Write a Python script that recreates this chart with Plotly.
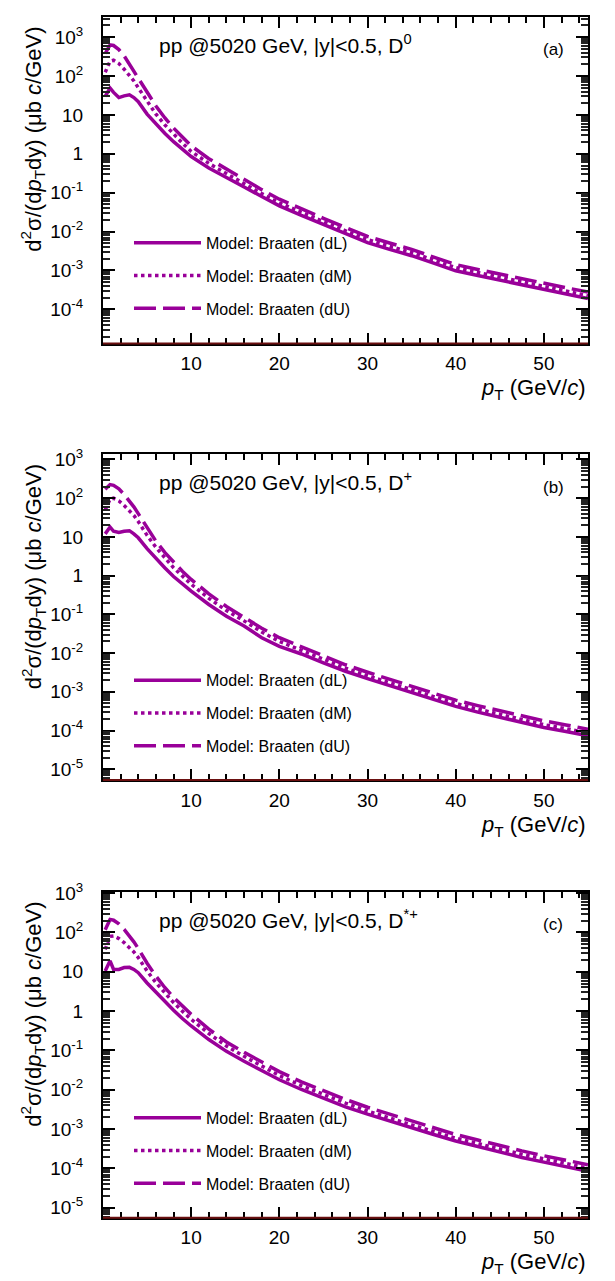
import plotly.graph_objects as go

# transverse-momentum grid (GeV/c)
pt = [0.25, 0.8, 1.2, 1.8, 2.4, 3.0, 3.5, 4.0, 5, 6, 7, 8, 9, 10, 12, 14, 16, 18, 20,
      22.5, 25, 27.5, 30, 32.5, 35, 37.5, 40, 42.5, 45, 47.5, 50, 52.5, 55]

# D0 cross sections (ub c/GeV)
d0_dL = [30, 49, 38, 28, 31, 33, 28, 22, 10.5, 5.8, 3.4, 2.05, 1.3, 0.85, 0.43, 0.24, 0.14, 0.08,
         0.046, 0.026, 0.015, 0.0088, 0.0052, 0.0035, 0.0024, 0.00155, 0.00098, 0.00074, 0.00056,
         0.00043, 0.00033, 0.00025, 0.00019]
d0_dM = [125, 240, 255, 210, 150, 105, 75, 50, 22, 10.5, 5.6, 3.2, 1.9, 1.15, 0.57, 0.31, 0.17,
         0.095, 0.055, 0.031, 0.018, 0.0105, 0.0062, 0.0042, 0.0029, 0.00185, 0.00118, 0.00089,
         0.00067, 0.00052, 0.0004, 0.0003, 0.000225]
d0_dU = [380, 630, 610, 480, 330, 200, 140, 95, 40, 17, 8.5, 4.6, 2.7, 1.6, 0.75, 0.40, 0.22, 0.12,
         0.068, 0.038, 0.022, 0.0128, 0.0075, 0.0051, 0.0035, 0.0022, 0.00142, 0.00106, 0.0008,
         0.00061, 0.00047, 0.00036, 0.00028]

# D+ cross sections (ub c/GeV)
dp_dL = [12, 18, 14, 13, 14, 14.5, 12, 9.5, 5.0, 2.8, 1.6, 0.95, 0.6, 0.40, 0.18, 0.09, 0.05, 0.025,
         0.015, 0.0095, 0.0056, 0.0034, 0.0022, 0.00145, 0.00095, 0.00063, 0.00042, 0.0003, 0.00022,
         0.00016, 0.00012, 0.000095, 0.000073]
dp_dM = [50, 95, 100, 85, 65, 48, 36, 25, 11, 5.4, 2.9, 1.6, 0.98, 0.60, 0.26, 0.125, 0.068, 0.035,
         0.02, 0.0118, 0.0069, 0.0041, 0.0026, 0.0017, 0.00113, 0.00075, 0.0005, 0.00036, 0.00026,
         0.00019, 0.000142, 0.000112, 0.000087]
dp_dU = [170, 225, 215, 175, 125, 85, 60, 40, 17, 7.8, 4.0, 2.2, 1.3, 0.8, 0.34, 0.16, 0.085, 0.044,
         0.025, 0.0145, 0.0084, 0.005, 0.0032, 0.0021, 0.00138, 0.00091, 0.00061, 0.00044, 0.00032,
         0.00024, 0.000178, 0.00014, 0.000108]

# D*+ cross sections (ub c/GeV)
ds_dL = [10.5, 19, 11.5, 11.5, 12.8, 13, 11.5, 9.5, 5.2, 3.0, 1.75, 1.05, 0.65, 0.42, 0.19, 0.095,
         0.053, 0.03, 0.018, 0.0102, 0.006, 0.0037, 0.0024, 0.0016, 0.00108, 0.00073, 0.0005,
         0.00036, 0.00026, 0.00019, 0.000145, 0.00011, 0.000085]
ds_dM = [37, 80, 82, 70, 55, 42, 32, 23, 10.5, 5.3, 2.9, 1.65, 1.0, 0.62, 0.27, 0.13, 0.071, 0.04,
         0.023, 0.0128, 0.0075, 0.0046, 0.0029, 0.0019, 0.00128, 0.00087, 0.00059, 0.00043, 0.00031,
         0.00023, 0.000175, 0.000132, 0.000102]
ds_dU = [117, 215, 205, 165, 120, 82, 58, 39, 16.5, 7.8, 4.0, 2.25, 1.35, 0.83, 0.35, 0.165, 0.09,
         0.05, 0.029, 0.016, 0.0094, 0.0057, 0.0036, 0.0024, 0.0016, 0.00107, 0.00073, 0.00053,
         0.00038, 0.00028, 0.00021, 0.000162, 0.000125]

series_names = ["Model: Braaten (dL)", "Model: Braaten (dM)", "Model: Braaten (dU)"]
series_dash = ["solid", "dot", "22px,7px"]
particles = ["D<sup>0</sup>", "D<sup>+</sup>", "D<sup>*+</sup>"]
panel_tags = ["(a)", "(b)", "(c)"]

ytick_vals = [1e3, 1e2, 10, 1, 1e-1, 1e-2, 1e-3, 1e-4, 1e-5]
ytick_text = ["10<sup>3</sup>", "10<sup>2</sup>", "10", "1", "10<sup>-1</sup>", "10<sup>-2</sup>",
              "10<sup>-3</sup>", "10<sup>-4</sup>", "10<sup>-5</sup>"]
xtick_vals = [10, 20, 30, 40, 50]
# minor ticks: 2..9 in every decade on y, every 2 GeV/c on x
yminor_vals = [m * 10.0 ** e for e in range(-6, 4) for m in range(2, 10)]
xminor_vals = [v for v in range(2, 56, 2) if v % 10 != 0]

W, H = 615, 1281
FONT = "Liberation Sans, Arial, Helvetica, sans-serif"
PURPLE = "#990099"

# panel frames in pixels: left, right, top, bottom
x_left, x_right = 103, 588
panels = [(5, 335), (447, 776), (889, 1218)]
y_ranges = [[-4.88, 3.52], [-5.28, 3.13], [-5.25, 3.03]]

data = [[d0_dL, d0_dM, d0_dU], [dp_dL, dp_dM, dp_dU], [ds_dL, ds_dM, ds_dU]]

fig = go.Figure()
layout = dict(
    width=W, height=H, autosize=False,
    margin=dict(l=0, r=0, t=0, b=0),
    paper_bgcolor="white", plot_bgcolor="white",
    font=dict(family=FONT, color="black"),
    showlegend=True,
)
annotations = []
shapes = []

frame = dict(showline=True, linecolor="black", linewidth=2, mirror="allticks",
             showgrid=False, zeroline=False)

for i, (top, bot) in enumerate(panels):
    sfx = "" if i == 0 else str(i + 1)
    msfx = str(i + 4)  # overlay axes carrying the minor ticks
    xa, ya = "x" + sfx, "y" + sfx
    xm, ym = "x" + msfx, "y" + msfx
    leg = "legend" + sfx
    for j in range(3):
        fig.add_trace(go.Scatter(
            x=pt, y=data[i][j], mode="lines", name=series_names[j],
            line=dict(color=PURPLE, width=3.5, dash=series_dash[j]),
            xaxis=xa, yaxis=ya, legend=leg, legendgroup=f"p{i}s{j}",
            hoverinfo="skip",
        ))
    # empty trace so the minor-tick axes are drawn
    fig.add_trace(go.Scatter(x=[None], y=[None], xaxis=xm, yaxis=ym, mode="lines",
                             showlegend=False, hoverinfo="skip"))
    dom_x = [x_left / W, x_right / W]
    dom_y = [1 - bot / H, 1 - top / H]
    layout["xaxis" + sfx] = dict(
        domain=dom_x, range=[0, 55], anchor=ya,
        tickmode="array", tickvals=xtick_vals,
        ticks="inside", ticklen=11, tickwidth=2, tickcolor="black",
        ticklabelstandoff=2,
        tickfont=dict(family=FONT, size=19, color="black"), **frame,
    )
    layout["yaxis" + sfx] = dict(
        domain=dom_y, type="log", range=y_ranges[i], anchor=xa,
        tickmode="array", tickvals=ytick_vals, ticktext=ytick_text,
        ticks="inside", ticklen=12, tickwidth=2, tickcolor="black",
        ticklabelstandoff=14,
        tickfont=dict(family=FONT, size=19, color="black"), **frame,
    )
    layout["xaxis" + msfx] = dict(
        domain=dom_x, range=[0, 55], anchor=ym, overlaying=xa,
        tickmode="array", tickvals=xminor_vals, showticklabels=False,
        ticks="inside", ticklen=6, tickwidth=1.5, tickcolor="black", **frame,
    )
    layout["yaxis" + msfx] = dict(
        domain=dom_y, type="log", range=y_ranges[i], anchor=xm, overlaying=ya,
        tickmode="array", tickvals=yminor_vals, showticklabels=False,
        ticks="inside", ticklen=7, tickwidth=1.5, tickcolor="#222", **frame,
    )
    layout[leg] = dict(
        x=(x_left + 26) / W, xanchor="left",
        y=1 - (top + 211) / H, yanchor="top",
        bgcolor="rgba(0,0,0,0)", borderwidth=0,
        font=dict(family=FONT, size=16, color="black"),
        itemwidth=67, tracegroupgap=9,
    )
    # dark-red bottom edge of the frame
    shapes.append(dict(type="line", xref=xa + " domain", yref=ya + " domain",
                       x0=0, x1=1, y0=0, y1=0, line=dict(color="#6b1010", width=2),
                       layer="above"))
    # header text
    annotations.append(dict(
        text="pp @5020 GeV, |y|&lt;0.5, " + particles[i],
        xref="paper", yref="paper", x=157 / W, y=1 - (top + 27) / H,
        xanchor="left", yanchor="middle", showarrow=False,
        font=dict(family=FONT, size=21, color="black"),
    ))
    annotations.append(dict(
        text=panel_tags[i], xref="paper", yref="paper",
        x=553 / W, y=1 - (top + 33) / H, xanchor="center", yanchor="middle",
        showarrow=False, font=dict(family=FONT, size=17, color="black"),
    ))
    # y-axis title
    annotations.append(dict(
        text="d<sup>2</sup>σ/(d<i>p</i><sub>T</sub>dy) (μb <i>c</i>/GeV)",
        xref="paper", yref="paper", x=33 / W, y=1 - (top + 124) / H,
        xanchor="center", yanchor="middle", textangle=-90, showarrow=False,
        font=dict(family=FONT, size=22, color="black"),
    ))
    # x-axis title
    annotations.append(dict(
        text="<i>p</i><sub>T</sub> (GeV/<i>c</i>)",
        xref="paper", yref="paper", x=x_right / W, y=1 - (bot + 46) / H,
        xanchor="right", yanchor="middle", showarrow=False,
        font=dict(family=FONT, size=22, color="black"),
    ))

layout["annotations"] = annotations
layout["shapes"] = shapes
fig.update_layout(**layout)
fig.write_html("out.html")
